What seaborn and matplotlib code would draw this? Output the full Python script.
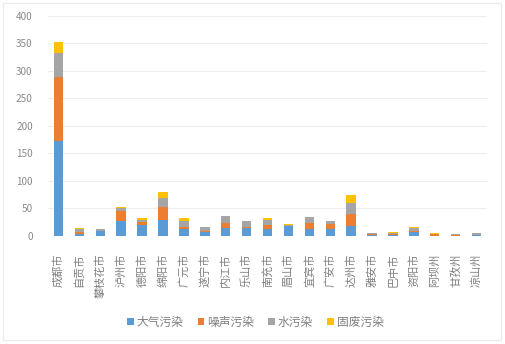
import numpy as np
import pandas as pd
import matplotlib
matplotlib.use("Agg")
import matplotlib.pyplot as plt
from matplotlib.patches import Patch, Rectangle
import seaborn as sns

cities = ["成都市", "自贡市", "攀枝花市", "泸州市", "德阳市", "绵阳市", "广元市",
          "遂宁市", "内江市", "乐山市", "南充市", "眉山市", "宜宾市", "广安市",
          "达州市", "雅安市", "巴中市", "资阳市", "阿坝州", "甘孜州", "凉山州"]
air = [172, 3, 9, 26, 19, 29, 12, 6, 13, 13, 11, 18, 11, 11, 18, 1, 1, 6, 0, 0, 1]
noise = [117, 3, 0, 19, 6, 23, 4, 2, 10, 3, 9, 0, 12, 10, 21, 1, 2, 3, 2, 1, 0]
water = [43, 5, 3, 6, 3, 17, 10, 7, 12, 10, 8, 2, 10, 5, 21, 2, 1, 5, 1, 1, 4]
solid = [20, 2, 0, 1, 4, 11, 6, 0.5, 0, 1, 3, 1, 1, 0, 14, 1, 2, 2, 2, 1, 0]

series_names = ["大气污染", "噪声污染", "水污染", "固废污染"]
colors = ["#5B9BD5", "#ED7D31", "#A5A5A5", "#FFC000"]

sns.set_theme(style="white")
plt.rcParams["font.family"] = ["Noto Sans CJK SC", "DejaVu Sans"]

df = pd.DataFrame({"city": cities, "air": air, "noise": noise,
                   "water": water, "solid": solid})
cols = ["air", "noise", "water", "solid"]
cum = df[cols].cumsum(axis=1)

fig = plt.figure(figsize=(5.06, 3.44), dpi=100)
ax = fig.add_axes([0.0949, 0.3154, 0.8676, 0.6381])

# stacked bars: draw the cumulative totals from the top layer down
for col, color in reversed(list(zip(cols, colors))):
    sns.barplot(x=df["city"], y=cum[col], color=color, width=0.45,
                saturation=1, ax=ax, order=cities, linewidth=0,
                edgecolor="none")

ax.set_ylim(0, 400)
ax.set_yticks(np.arange(0, 401, 50))
ax.set_xlim(-0.5, len(cities) - 0.5)
ax.set_xlabel("")
ax.set_ylabel("")
ax.grid(axis="y", color="#EDEDED", linewidth=0.8)
ax.set_axisbelow(True)
for s in ax.spines.values():
    s.set_visible(False)
ax.tick_params(axis="y", length=0, pad=11, labelsize=7.2, labelcolor="#8A8A8A")
ax.tick_params(axis="x", length=0, pad=13, labelsize=8, labelcolor="#7F7F7F")
for lab in ax.get_xticklabels():
    lab.set_rotation(90)

handles = [Patch(facecolor=c, edgecolor="none") for c in colors]
fig.legend(handles, series_names, loc="center", bbox_to_anchor=(0.505, 0.064),
           ncol=4, frameon=False, fontsize=8.5, labelcolor="#7F7F7F",
           handlelength=0.55, handleheight=0.55, handletextpad=0.25,
           columnspacing=1.2)

fig.patches.append(Rectangle((0.006, 0.012), 0.985, 0.978, transform=fig.transFigure,
                             fill=False, edgecolor="#EBEBEB", linewidth=0.8))

fig.savefig("out.png", dpi=100)
